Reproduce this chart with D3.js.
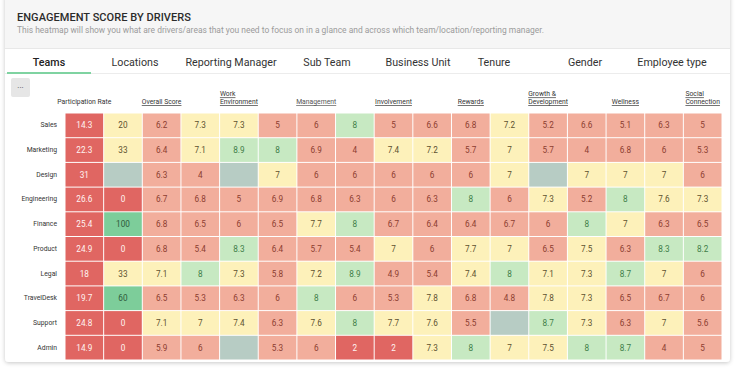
<!DOCTYPE html>
<html lang="en">
<head>
<meta charset="utf-8" />
<script src="https://d3js.org/d3.v7.min.js"></script>
<style>
  html, body { margin: 0; padding: 0; background: #fff; }
  svg { display: block; font-family: Roboto, "Noto Sans", sans-serif; }
</style>
</head>
<body>
<div id="chart"></div>
<script>
// ---- data ----
var teams = ["Sales", "Marketing", "Design", "Engineering", "Finance", "Product", "Legal", "TravelDesk", "Support", "Admin"];

var tabs = ["Teams", "Locations", "Reporting Manager", "Sub Team", "Business Unit", "Tenure", "Gender", "Employee type"];

// one header per two columns (lines for wrapping), odd columns have none
var headers = [
  ["Participation Rate"], [],
  ["Overall Score"], [],
  ["Work", "Environment"], [],
  ["Management"], [],
  ["Involvement"], [],
  ["Rewards"], [],
  ["Growth &", "Development"], [],
  ["Wellness"], [],
  ["Social", "Connection"]
];

// null = no data
var values = [
  [14.3, 20, 6.2, 7.3, 7.3, 5, 6, 8, 5, 6.6, 6.8, 7.2, 5.2, 6.6, 5.1, 6.3, 5],
  [22.3, 33, 6.4, 7.1, 8.9, 8, 6.9, 4, 7.4, 7.2, 5.7, 7, 5.7, 4, 6.8, 6, 5.3],
  [31, null, 6.3, 4, null, 7, 6, 6, 6, 6, 6, 7, null, 7, 7, 7, 6],
  [26.6, 0, 6.7, 6.8, 5, 6.9, 6.8, 6.3, 6, 6.3, 8, 6, 7.3, 5.2, 8, 7.6, 7.3],
  [25.4, 100, 6.8, 6.5, 6, 6.5, 7.7, 8, 6.7, 6.4, 6.4, 6.7, 6, 8, 7, 6.3, 6.5],
  [24.9, 0, 6.8, 5.4, 8.3, 6.4, 5.7, 5.4, 7, 6, 7.7, 7, 6.5, 7.5, 6.3, 8.3, 8.2],
  [18, 33, 7.1, 8, 7.3, 5.8, 7.2, 8.9, 4.9, 5.4, 7.4, 8, 7.1, 7.3, 8.7, 7, 6],
  [19.7, 60, 6.5, 5.3, 6.3, 6, 8, 6, 5.3, 7.8, 6.8, 4.8, 7.8, 7.3, 6.5, 6.7, 6],
  [24.8, 0, 7.1, 7, 7.4, 6.3, 7.6, 8, 7.7, 7.6, 5.5, null, 8.7, 7.3, 6.3, 7, 5.6],
  [14.9, 0, 5.9, 6, null, 5.3, 6, 2, 2, 7.3, 8, 7, 7.5, 8, 8.7, 4, 5]
];

// ---- colours ----
var fills = { red: "#e06662", salmon: "#f2ae9c", yellow: "#fdf1ba", green: "#c7e9c2", dgreen: "#7dcd9a", none: "#b7ccc4" };
var inks  = { red: "#fff4f2", salmon: "#8c3d30", yellow: "#5e5230", green: "#3f7d48", dgreen: "#2e5a3b", none: "#000" };

var scoreLevel = d3.scaleThreshold().domain([3, 7, 8]).range(["red", "salmon", "yellow", "green"]);
var rateLevel = d3.scaleThreshold().domain([50]).range(["red", "green"]);
var pctLevel = d3.scaleThreshold().domain([10, 50]).range(["red", "yellow", "dgreen"]);

function level(v, c) {
  if (v == null) return "none";
  if (c === 0) return rateLevel(v);
  if (c === 1) return pctLevel(v);
  return scoreLevel(v);
}

// ---- layout ----
var W = 740, H = 370;
var tabCenters = [49, 135, 231, 327, 418, 494, 585, 672];

var svg = d3.select("#chart").append("svg").attr("width", W).attr("height", H);

var defs = svg.append("defs");
var f = defs.append("filter").attr("id", "shadow").attr("x", "-5%").attr("y", "-5%").attr("width", "110%").attr("height", "110%");
f.append("feDropShadow").attr("dx", 0).attr("dy", 1).attr("stdDeviation", 2).attr("flood-color", "#000").attr("flood-opacity", 0.22);

// card
svg.append("rect").attr("x", 5).attr("y", -6).attr("width", 725).attr("height", 368)
  .attr("rx", 4).attr("fill", "#fff").attr("filter", "url(#shadow)");
svg.append("rect").attr("x", 5).attr("y", -6).attr("width", 725).attr("height", 54)
  .attr("fill", "#f6f6f6");
svg.append("line").attr("x1", 5).attr("x2", 730).attr("y1", 48.5).attr("y2", 48.5).attr("stroke", "#e8e8e8");

svg.append("text").attr("x", 17).attr("y", 21)
  .attr("font-size", 11).attr("font-weight", 500).attr("letter-spacing", 0.05).attr("fill", "#2b2b2b")
  .text("ENGAGEMENT SCORE BY DRIVERS");
svg.append("text").attr("x", 17).attr("y", 33)
  .attr("font-size", 8.45).attr("fill", "#9b9b9b")
  .text("This heatmap will show you what are drivers/areas that you need to focus on in a glance and across which team/location/reporting manager.");

// tabs
svg.append("line").attr("x1", 5).attr("x2", 730).attr("y1", 73.5).attr("y2", 73.5).attr("stroke", "#ececec");
svg.append("line").attr("x1", 7).attr("x2", 91).attr("y1", 73).attr("y2", 73).attr("stroke", "#7fd3a1").attr("stroke-width", 2);
svg.selectAll(".tab").data(tabs).enter().append("text")
  .attr("class", "tab")
  .attr("x", (d, i) => tabCenters[i]).attr("y", 66)
  .attr("text-anchor", "middle").attr("font-size", 10.7)
  .attr("font-weight", (d, i) => i === 0 ? 500 : 400)
  .attr("fill", (d, i) => i === 0 ? "#222" : "#333")
  .text(d => d);

// "..." button
svg.append("rect").attr("x", 11).attr("y", 78).attr("width", 19).attr("height", 19).attr("rx", 2).attr("fill", "#e6e6e6");
svg.append("text").attr("x", 20.5).attr("y", 88).attr("text-anchor", "middle").attr("font-size", 8).attr("fill", "#444").text("...");

// heatmap
var x = d3.scaleBand().domain(d3.range(headers.length)).range([65, 722]);
var y = d3.scaleBand().domain(teams).range([113, 360]);

var cells = [];
values.forEach((row, r) => row.forEach((v, c) => cells.push({ team: teams[r], col: c, v: v, lv: level(v, c) })));

svg.selectAll(".cell").data(cells).enter().append("rect")
  .attr("class", "cell")
  .attr("x", d => x(d.col) + 0.5).attr("y", d => y(d.team) + 0.5)
  .attr("width", x.bandwidth() - 1).attr("height", y.bandwidth() - 1)
  .attr("fill", d => fills[d.lv]);

svg.selectAll(".val").data(cells.filter(d => d.v != null)).enter().append("text")
  .attr("class", "val")
  .attr("x", d => x(d.col) + x.bandwidth() / 2).attr("y", d => y(d.team) + y.bandwidth() / 2)
  .attr("text-anchor", "middle").attr("dominant-baseline", "central")
  .attr("font-size", 8.2).attr("fill", d => inks[d.lv])
  .text(d => d.v);

svg.selectAll(".rowlab").data(teams).enter().append("text")
  .attr("class", "rowlab")
  .attr("x", 57).attr("y", d => y(d) + y.bandwidth() / 2)
  .attr("text-anchor", "end").attr("dominant-baseline", "central")
  .attr("font-size", 6.8).attr("fill", "#333")
  .text(d => d);

// column headers: left aligned block centred on its column
headers.forEach((lines, c) => {
  if (!lines.length) return;
  var g = svg.append("g");
  var n = lines.length;
  var texts = lines.map((ln, k) => g.append("text")
    .attr("y", 104 - (n - 1 - k) * 7.6)
    .attr("font-size", 6.8).attr("fill", c === 6 ? "#555" : "#333")
    .style("text-decoration", c === 0 ? "none" : "underline")
    .text(ln));
  var wmax = d3.max(texts, t => t.node().getComputedTextLength());
  var cx = x(c) + x.bandwidth() / 2;
  texts.forEach(t => t.attr("x", cx - wmax / 2));
});
</script>
</body>
</html>
